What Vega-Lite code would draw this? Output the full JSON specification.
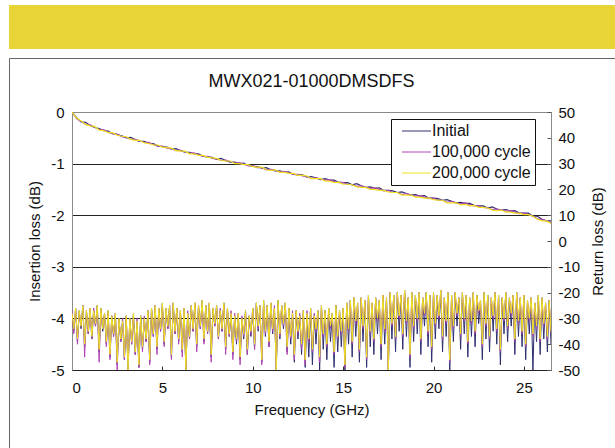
{
"$schema":"https://vega.github.io/schema/vega-lite/v6.json",
"padding":{"left":7,"top":5,"right":0,"bottom":0},
"config":{"font":"Liberation Sans","view":{"stroke":"#8a8a8a"},"axis":{"labelFont":"Liberation Sans","titleFont":"Liberation Sans","labelColor":"#111","titleColor":"#111","titleFontWeight":"normal"},"legend":{"labelFont":"Liberation Sans"}},
"spacing":-610,
"align":"none",
"resolve":{"legend":{"color":"independent"}},
"datasets":{
"il":[
{"f":0,"a":0,"b":0,"c":0},
{"f":0.25,"a":-0.11,"b":-0.13,"c":-0.12},
{"f":0.5,"a":-0.19,"b":-0.18,"c":-0.17},
{"f":0.75,"a":-0.2,"b":-0.24,"c":-0.24},
{"f":1,"a":-0.26,"b":-0.25,"c":-0.27},
{"f":1.25,"a":-0.3,"b":-0.29,"c":-0.28},
{"f":1.5,"a":-0.32,"b":-0.34,"c":-0.35},
{"f":1.75,"a":-0.36,"b":-0.34,"c":-0.36},
{"f":2,"a":-0.37,"b":-0.39,"c":-0.4},
{"f":2.25,"a":-0.42,"b":-0.42,"c":-0.4},
{"f":2.5,"a":-0.44,"b":-0.43,"c":-0.45},
{"f":2.75,"a":-0.46,"b":-0.48,"c":-0.47},
{"f":3,"a":-0.5,"b":-0.49,"c":-0.48},
{"f":3.25,"a":-0.49,"b":-0.53,"c":-0.53},
{"f":3.5,"a":-0.54,"b":-0.53,"c":-0.55},
{"f":3.75,"a":-0.57,"b":-0.56,"c":-0.55},
{"f":4,"a":-0.57,"b":-0.59,"c":-0.6},
{"f":4.25,"a":-0.61,"b":-0.59,"c":-0.61},
{"f":4.5,"a":-0.61,"b":-0.63,"c":-0.64},
{"f":4.75,"a":-0.66,"b":-0.66,"c":-0.64},
{"f":5,"a":-0.67,"b":-0.66,"c":-0.68},
{"f":5.25,"a":-0.68,"b":-0.7,"c":-0.69},
{"f":5.5,"a":-0.72,"b":-0.71,"c":-0.7},
{"f":5.75,"a":-0.71,"b":-0.75,"c":-0.75},
{"f":6,"a":-0.75,"b":-0.74,"c":-0.76},
{"f":6.25,"a":-0.78,"b":-0.77,"c":-0.76},
{"f":6.5,"a":-0.78,"b":-0.8,"c":-0.81},
{"f":6.75,"a":-0.81,"b":-0.79,"c":-0.81},
{"f":7,"a":-0.81,"b":-0.83,"c":-0.84},
{"f":7.25,"a":-0.86,"b":-0.86,"c":-0.84},
{"f":7.5,"a":-0.87,"b":-0.86,"c":-0.88},
{"f":7.75,"a":-0.88,"b":-0.9,"c":-0.89},
{"f":8,"a":-0.92,"b":-0.91,"c":-0.9},
{"f":8.25,"a":-0.9,"b":-0.94,"c":-0.94},
{"f":8.5,"a":-0.94,"b":-0.93,"c":-0.95},
{"f":8.75,"a":-0.97,"b":-0.96,"c":-0.95},
{"f":9,"a":-0.97,"b":-0.99,"c":-1},
{"f":9.25,"a":-1,"b":-0.98,"c":-1},
{"f":9.5,"a":-0.99,"b":-1.01,"c":-1.02},
{"f":9.75,"a":-1.04,"b":-1.04,"c":-1.02},
{"f":10,"a":-1.05,"b":-1.04,"c":-1.06},
{"f":10.25,"a":-1.06,"b":-1.08,"c":-1.07},
{"f":10.5,"a":-1.09,"b":-1.08,"c":-1.07},
{"f":10.75,"a":-1.08,"b":-1.12,"c":-1.12},
{"f":11,"a":-1.12,"b":-1.11,"c":-1.13},
{"f":11.25,"a":-1.14,"b":-1.13,"c":-1.12},
{"f":11.5,"a":-1.14,"b":-1.16,"c":-1.17},
{"f":11.75,"a":-1.17,"b":-1.15,"c":-1.17},
{"f":12,"a":-1.16,"b":-1.18,"c":-1.19},
{"f":12.25,"a":-1.21,"b":-1.21,"c":-1.19},
{"f":12.5,"a":-1.22,"b":-1.21,"c":-1.23},
{"f":12.75,"a":-1.22,"b":-1.24,"c":-1.23},
{"f":13,"a":-1.26,"b":-1.25,"c":-1.24},
{"f":13.25,"a":-1.25,"b":-1.29,"c":-1.29},
{"f":13.5,"a":-1.28,"b":-1.27,"c":-1.29},
{"f":13.75,"a":-1.31,"b":-1.3,"c":-1.29},
{"f":14,"a":-1.29,"b":-1.32,"c":-1.34},
{"f":14.25,"a":-1.32,"b":-1.31,"c":-1.34},
{"f":14.5,"a":-1.32,"b":-1.35,"c":-1.37},
{"f":14.75,"a":-1.36,"b":-1.37,"c":-1.36},
{"f":15,"a":-1.37,"b":-1.37,"c":-1.4},
{"f":15.25,"a":-1.37,"b":-1.4,"c":-1.4},
{"f":15.5,"a":-1.41,"b":-1.41,"c":-1.41},
{"f":15.75,"a":-1.39,"b":-1.44,"c":-1.45},
{"f":16,"a":-1.43,"b":-1.43,"c":-1.46},
{"f":16.25,"a":-1.46,"b":-1.46,"c":-1.46},
{"f":16.5,"a":-1.45,"b":-1.48,"c":-1.5},
{"f":16.75,"a":-1.48,"b":-1.47,"c":-1.5},
{"f":17,"a":-1.47,"b":-1.5,"c":-1.52},
{"f":17.25,"a":-1.52,"b":-1.53,"c":-1.52},
{"f":17.5,"a":-1.52,"b":-1.52,"c":-1.55},
{"f":17.75,"a":-1.53,"b":-1.56,"c":-1.56},
{"f":18,"a":-1.56,"b":-1.56,"c":-1.56},
{"f":18.25,"a":-1.55,"b":-1.6,"c":-1.61},
{"f":18.5,"a":-1.58,"b":-1.58,"c":-1.61},
{"f":18.75,"a":-1.61,"b":-1.61,"c":-1.61},
{"f":19,"a":-1.6,"b":-1.63,"c":-1.65},
{"f":19.25,"a":-1.63,"b":-1.62,"c":-1.65},
{"f":19.5,"a":-1.62,"b":-1.65,"c":-1.67},
{"f":19.75,"a":-1.67,"b":-1.68,"c":-1.67},
{"f":20,"a":-1.67,"b":-1.67,"c":-1.7},
{"f":20.25,"a":-1.68,"b":-1.71,"c":-1.71},
{"f":20.5,"a":-1.71,"b":-1.71,"c":-1.71},
{"f":20.75,"a":-1.7,"b":-1.75,"c":-1.76},
{"f":21,"a":-1.73,"b":-1.73,"c":-1.76},
{"f":21.25,"a":-1.76,"b":-1.76,"c":-1.76},
{"f":21.5,"a":-1.75,"b":-1.78,"c":-1.8},
{"f":21.75,"a":-1.77,"b":-1.76,"c":-1.79},
{"f":22,"a":-1.77,"b":-1.8,"c":-1.82},
{"f":22.25,"a":-1.81,"b":-1.82,"c":-1.81},
{"f":22.5,"a":-1.82,"b":-1.82,"c":-1.85},
{"f":22.75,"a":-1.82,"b":-1.85,"c":-1.85},
{"f":23,"a":-1.86,"b":-1.86,"c":-1.86},
{"f":23.25,"a":-1.84,"b":-1.89,"c":-1.9},
{"f":23.5,"a":-1.88,"b":-1.88,"c":-1.91},
{"f":23.75,"a":-1.9,"b":-1.9,"c":-1.9},
{"f":24,"a":-1.89,"b":-1.92,"c":-1.94},
{"f":24.25,"a":-1.92,"b":-1.91,"c":-1.94},
{"f":24.5,"a":-1.91,"b":-1.94,"c":-1.96},
{"f":24.75,"a":-1.96,"b":-1.97,"c":-1.96},
{"f":25,"a":-1.96,"b":-1.96,"c":-1.99},
{"f":25.25,"a":-1.96,"b":-1.99,"c":-1.99},
{"f":25.5,"a":-2.02,"b":-2.02,"c":-2.02},
{"f":25.75,"a":-2.02,"b":-2.07,"c":-2.08},
{"f":26,"a":-2.08,"b":-2.08,"c":-2.11},
{"f":26.25,"a":-2.11,"b":-2.11,"c":-2.11},
{"f":26.5,"a":-2.11,"b":-2.14,"c":-2.16}
],
"rl":[
{"f":0,"a":-28,"b":-27,"c":-28},
{"f":0.1,"a":-35,"b":-36,"c":-34},
{"f":0.2,"a":-26,"b":-26,"c":-26},
{"f":0.3,"a":-39,"b":-40,"c":-38},
{"f":0.4,"a":-27,"b":-28,"c":-27},
{"f":0.5,"a":-34,"b":-33,"c":-33},
{"f":0.6,"a":-25,"b":-25,"c":-25},
{"f":0.7,"a":-41,"b":-45,"c":-40},
{"f":0.8,"a":-27,"b":-27,"c":-27},
{"f":0.9,"a":-36,"b":-36,"c":-35},
{"f":1,"a":-26,"b":-26,"c":-26},
{"f":1.1,"a":-38,"b":-38,"c":-37},
{"f":1.2,"a":-27,"b":-26,"c":-27},
{"f":1.3,"a":-33,"b":-33,"c":-32},
{"f":1.4,"a":-25,"b":-25,"c":-25},
{"f":1.5,"a":-43,"b":-47,"c":-42},
{"f":1.6,"a":-26,"b":-27,"c":-26},
{"f":1.7,"a":-35,"b":-34,"c":-34},
{"f":1.8,"a":-28,"b":-28,"c":-28},
{"f":1.9,"a":-40,"b":-41,"c":-39},
{"f":2,"a":-27,"b":-28,"c":-27},
{"f":2.1,"a":-45,"b":-46,"c":-44},
{"f":2.2,"a":-29,"b":-29,"c":-29},
{"f":2.3,"a":-37,"b":-37,"c":-36},
{"f":2.4,"a":-28,"b":-28,"c":-28},
{"f":2.5,"a":-48,"b":-50,"c":-47},
{"f":2.6,"a":-30,"b":-30,"c":-30},
{"f":2.7,"a":-39,"b":-39,"c":-38},
{"f":2.8,"a":-31,"b":-30,"c":-31},
{"f":2.9,"a":-46,"b":-46,"c":-45},
{"f":3,"a":-29,"b":-29,"c":-29},
{"f":3.1,"a":-50,"b":-50,"c":-50},
{"f":3.2,"a":-30,"b":-30,"c":-30},
{"f":3.3,"a":-40,"b":-40,"c":-39},
{"f":3.4,"a":-28,"b":-29,"c":-28},
{"f":3.5,"a":-44,"b":-44,"c":-43},
{"f":3.6,"a":-31,"b":-30,"c":-31},
{"f":3.7,"a":-49,"b":-49,"c":-48},
{"f":3.8,"a":-29,"b":-29,"c":-29},
{"f":3.9,"a":-42,"b":-43,"c":-41},
{"f":4,"a":-30,"b":-29,"c":-30},
{"f":4.1,"a":-39,"b":-39,"c":-38},
{"f":4.2,"a":-27,"b":-27,"c":-27},
{"f":4.3,"a":-47,"b":-48,"c":-46},
{"f":4.4,"a":-26,"b":-26,"c":-26},
{"f":4.5,"a":-37,"b":-37,"c":-36},
{"f":4.6,"a":-25,"b":-25,"c":-25},
{"f":4.7,"a":-42,"b":-44,"c":-41},
{"f":4.8,"a":-26,"b":-26,"c":-26},
{"f":4.9,"a":-35,"b":-35,"c":-34},
{"f":5,"a":-24,"b":-25,"c":-24},
{"f":5.1,"a":-40,"b":-41,"c":-39},
{"f":5.2,"a":-26,"b":-26,"c":-26},
{"f":5.3,"a":-34,"b":-34,"c":-33},
{"f":5.4,"a":-25,"b":-25,"c":-25},
{"f":5.5,"a":-45,"b":-46,"c":-44},
{"f":5.6,"a":-24,"b":-24,"c":-24},
{"f":5.7,"a":-36,"b":-36,"c":-35},
{"f":5.8,"a":-26,"b":-26,"c":-26},
{"f":5.9,"a":-39,"b":-40,"c":-38},
{"f":6,"a":-27,"b":-27,"c":-27},
{"f":6.1,"a":-43,"b":-45,"c":-42},
{"f":6.2,"a":-26,"b":-26,"c":-26},
{"f":6.3,"a":-50,"b":-50,"c":-50},
{"f":6.4,"a":-28,"b":-27,"c":-28},
{"f":6.5,"a":-38,"b":-38,"c":-37},
{"f":6.6,"a":-25,"b":-25,"c":-25},
{"f":6.7,"a":-35,"b":-35,"c":-34},
{"f":6.8,"a":-24,"b":-24,"c":-24},
{"f":6.9,"a":-41,"b":-43,"c":-40},
{"f":7,"a":-25,"b":-25,"c":-25},
{"f":7.1,"a":-34,"b":-34,"c":-33},
{"f":7.2,"a":-23,"b":-24,"c":-23},
{"f":7.3,"a":-39,"b":-40,"c":-38},
{"f":7.4,"a":-25,"b":-25,"c":-25},
{"f":7.5,"a":-36,"b":-36,"c":-35},
{"f":7.6,"a":-24,"b":-24,"c":-24},
{"f":7.7,"a":-45,"b":-47,"c":-44},
{"f":7.8,"a":-26,"b":-26,"c":-26},
{"f":7.9,"a":-33,"b":-33,"c":-32},
{"f":8,"a":-25,"b":-25,"c":-25},
{"f":8.1,"a":-38,"b":-38,"c":-37},
{"f":8.2,"a":-27,"b":-26,"c":-27},
{"f":8.3,"a":-35,"b":-35,"c":-34},
{"f":8.4,"a":-24,"b":-24,"c":-24},
{"f":8.5,"a":-42,"b":-44,"c":-41},
{"f":8.6,"a":-26,"b":-26,"c":-26},
{"f":8.7,"a":-37,"b":-37,"c":-36},
{"f":8.8,"a":-28,"b":-27,"c":-28},
{"f":8.9,"a":-44,"b":-46,"c":-43},
{"f":9,"a":-29,"b":-28,"c":-29},
{"f":9.1,"a":-40,"b":-39,"c":-38},
{"f":9.2,"a":-28,"b":-28,"c":-28},
{"f":9.3,"a":-46,"b":-48,"c":-45},
{"f":9.4,"a":-30,"b":-29,"c":-30},
{"f":9.5,"a":-38,"b":-37,"c":-36},
{"f":9.6,"a":-27,"b":-27,"c":-27},
{"f":9.7,"a":-44,"b":-44,"c":-42},
{"f":9.8,"a":-29,"b":-29,"c":-29},
{"f":9.9,"a":-37,"b":-36,"c":-35},
{"f":10,"a":-26,"b":-26,"c":-26},
{"f":10.1,"a":-42,"b":-42,"c":-40},
{"f":10.2,"a":-24,"b":-24,"c":-24},
{"f":10.3,"a":-35,"b":-34,"c":-33},
{"f":10.4,"a":-25,"b":-25,"c":-25},
{"f":10.5,"a":-47,"b":-48,"c":-46},
{"f":10.6,"a":-23,"b":-24,"c":-23},
{"f":10.7,"a":-37,"b":-36,"c":-35},
{"f":10.8,"a":-25,"b":-25,"c":-25},
{"f":10.9,"a":-41,"b":-41,"c":-39},
{"f":11,"a":-24,"b":-24,"c":-24},
{"f":11.1,"a":-36,"b":-35,"c":-34},
{"f":11.2,"a":-26,"b":-25,"c":-26},
{"f":11.3,"a":-50,"b":-50,"c":-50},
{"f":11.4,"a":-23,"b":-24,"c":-23},
{"f":11.5,"a":-38,"b":-37,"c":-36},
{"f":11.6,"a":-25,"b":-25,"c":-25},
{"f":11.7,"a":-34,"b":-33,"c":-32},
{"f":11.8,"a":-24,"b":-24,"c":-24},
{"f":11.9,"a":-43,"b":-44,"c":-41},
{"f":12,"a":-26,"b":-26,"c":-26},
{"f":12.1,"a":-40,"b":-38,"c":-37},
{"f":12.2,"a":-28,"b":-27,"c":-28},
{"f":12.3,"a":-47,"b":-46,"c":-44},
{"f":12.4,"a":-27,"b":-27,"c":-27},
{"f":12.5,"a":-38,"b":-36,"c":-35},
{"f":12.6,"a":-29,"b":-28,"c":-29},
{"f":12.7,"a":-44,"b":-42,"c":-40},
{"f":12.8,"a":-27,"b":-27,"c":-27},
{"f":12.9,"a":-49,"b":-48,"c":-46},
{"f":13,"a":-28,"b":-27,"c":-28},
{"f":13.1,"a":-45,"b":-39,"c":-38},
{"f":13.2,"a":-26,"b":-26,"c":-26},
{"f":13.3,"a":-48,"b":-43,"c":-42},
{"f":13.4,"a":-29,"b":-28,"c":-29},
{"f":13.5,"a":-40,"b":-35,"c":-34},
{"f":13.6,"a":-27,"b":-27,"c":-27},
{"f":13.7,"a":-50,"b":-47,"c":-45},
{"f":13.8,"a":-25,"b":-25,"c":-25},
{"f":13.9,"a":-42,"b":-37,"c":-36},
{"f":14,"a":-27,"b":-27,"c":-27},
{"f":14.1,"a":-46,"b":-41,"c":-40},
{"f":14.2,"a":-26,"b":-26,"c":-26},
{"f":14.3,"a":-39,"b":-34,"c":-33},
{"f":14.4,"a":-28,"b":-28,"c":-28},
{"f":14.5,"a":-49,"b":-44,"c":-43},
{"f":14.6,"a":-25,"b":-25,"c":-25},
{"f":14.7,"a":-43,"b":-38,"c":-37},
{"f":14.8,"a":-27,"b":-27,"c":-27},
{"f":14.9,"a":-41,"b":-36,"c":-35},
{"f":15,"a":-26,"b":-26,"c":-26},
{"f":15.1,"a":-50,"b":-49,"c":-48},
{"f":15.2,"a":-24,"b":-24,"c":-24},
{"f":15.3,"a":-40,"b":-35,"c":-34},
{"f":15.4,"a":-23,"b":-23,"c":-23},
{"f":15.5,"a":-45,"b":-40,"c":-39},
{"f":15.6,"a":-22,"b":-22,"c":-22},
{"f":15.7,"a":-37,"b":-32,"c":-31},
{"f":15.8,"a":-24,"b":-24,"c":-24},
{"f":15.9,"a":-47,"b":-43,"c":-42},
{"f":16,"a":-22,"b":-22,"c":-22},
{"f":16.1,"a":-39,"b":-34,"c":-33},
{"f":16.2,"a":-23,"b":-23,"c":-23},
{"f":16.3,"a":-49,"b":-46,"c":-45},
{"f":16.4,"a":-21,"b":-21,"c":-21},
{"f":16.5,"a":-41,"b":-36,"c":-35},
{"f":16.6,"a":-24,"b":-24,"c":-24},
{"f":16.7,"a":-44,"b":-39,"c":-38},
{"f":16.8,"a":-22,"b":-22,"c":-22},
{"f":16.9,"a":-36,"b":-31,"c":-30},
{"f":17,"a":-23,"b":-23,"c":-23},
{"f":17.1,"a":-46,"b":-41,"c":-40},
{"f":17.2,"a":-21,"b":-21,"c":-21},
{"f":17.3,"a":-40,"b":-35,"c":-34},
{"f":17.4,"a":-22,"b":-22,"c":-22},
{"f":17.5,"a":-50,"b":-50,"c":-50},
{"f":17.6,"a":-20,"b":-20,"c":-20},
{"f":17.7,"a":-38,"b":-33,"c":-32},
{"f":17.8,"a":-21,"b":-21,"c":-21},
{"f":17.9,"a":-43,"b":-38,"c":-37},
{"f":18,"a":-20,"b":-20,"c":-20},
{"f":18.1,"a":-35,"b":-30,"c":-29},
{"f":18.2,"a":-21,"b":-21,"c":-21},
{"f":18.3,"a":-42,"b":-37,"c":-36},
{"f":18.4,"a":-19,"b":-19,"c":-19},
{"f":18.5,"a":-37,"b":-32,"c":-31},
{"f":18.6,"a":-22,"b":-22,"c":-22},
{"f":18.7,"a":-49,"b":-45,"c":-44},
{"f":18.8,"a":-20,"b":-20,"c":-20},
{"f":18.9,"a":-39,"b":-34,"c":-33},
{"f":19,"a":-21,"b":-21,"c":-21},
{"f":19.1,"a":-36,"b":-31,"c":-30},
{"f":19.2,"a":-20,"b":-20,"c":-20},
{"f":19.3,"a":-44,"b":-39,"c":-38},
{"f":19.4,"a":-22,"b":-22,"c":-22},
{"f":19.5,"a":-33,"b":-29,"c":-28},
{"f":19.6,"a":-20,"b":-20,"c":-20},
{"f":19.7,"a":-41,"b":-36,"c":-35},
{"f":19.8,"a":-21,"b":-21,"c":-21},
{"f":19.9,"a":-47,"b":-42,"c":-41},
{"f":20,"a":-20,"b":-20,"c":-20},
{"f":20.1,"a":-38,"b":-33,"c":-32},
{"f":20.2,"a":-21,"b":-21,"c":-21},
{"f":20.3,"a":-34,"b":-30,"c":-29},
{"f":20.4,"a":-19,"b":-19,"c":-19},
{"f":20.5,"a":-43,"b":-38,"c":-37},
{"f":20.6,"a":-22,"b":-22,"c":-22},
{"f":20.7,"a":-37,"b":-32,"c":-31},
{"f":20.8,"a":-20,"b":-20,"c":-20},
{"f":20.9,"a":-50,"b":-47,"c":-46},
{"f":21,"a":-21,"b":-21,"c":-21},
{"f":21.1,"a":-39,"b":-34,"c":-33},
{"f":21.2,"a":-20,"b":-20,"c":-20},
{"f":21.3,"a":-33,"b":-29,"c":-28},
{"f":21.4,"a":-22,"b":-22,"c":-22},
{"f":21.5,"a":-42,"b":-37,"c":-36},
{"f":21.6,"a":-20,"b":-20,"c":-20},
{"f":21.7,"a":-36,"b":-31,"c":-30},
{"f":21.8,"a":-21,"b":-21,"c":-21},
{"f":21.9,"a":-45,"b":-40,"c":-39},
{"f":22,"a":-22,"b":-22,"c":-22},
{"f":22.1,"a":-37,"b":-32,"c":-31},
{"f":22.2,"a":-20,"b":-20,"c":-20},
{"f":22.3,"a":-41,"b":-36,"c":-35},
{"f":22.4,"a":-21,"b":-21,"c":-21},
{"f":22.5,"a":-32,"b":-28,"c":-27},
{"f":22.6,"a":-23,"b":-23,"c":-23},
{"f":22.7,"a":-46,"b":-41,"c":-40},
{"f":22.8,"a":-20,"b":-20,"c":-20},
{"f":22.9,"a":-38,"b":-33,"c":-32},
{"f":23,"a":-21,"b":-21,"c":-21},
{"f":23.1,"a":-43,"b":-38,"c":-37},
{"f":23.2,"a":-22,"b":-22,"c":-22},
{"f":23.3,"a":-35,"b":-30,"c":-29},
{"f":23.4,"a":-20,"b":-20,"c":-20},
{"f":23.5,"a":-40,"b":-35,"c":-34},
{"f":23.6,"a":-21,"b":-21,"c":-21},
{"f":23.7,"a":-48,"b":-43,"c":-42},
{"f":23.8,"a":-22,"b":-22,"c":-22},
{"f":23.9,"a":-36,"b":-31,"c":-30},
{"f":24,"a":-20,"b":-20,"c":-20},
{"f":24.1,"a":-39,"b":-34,"c":-33},
{"f":24.2,"a":-22,"b":-22,"c":-22},
{"f":24.3,"a":-33,"b":-29,"c":-28},
{"f":24.4,"a":-21,"b":-21,"c":-21},
{"f":24.5,"a":-44,"b":-39,"c":-38},
{"f":24.6,"a":-20,"b":-20,"c":-20},
{"f":24.7,"a":-37,"b":-32,"c":-31},
{"f":24.8,"a":-22,"b":-22,"c":-22},
{"f":24.9,"a":-41,"b":-36,"c":-35},
{"f":25,"a":-21,"b":-21,"c":-21},
{"f":25.1,"a":-46,"b":-41,"c":-40},
{"f":25.2,"a":-23,"b":-23,"c":-23},
{"f":25.3,"a":-36,"b":-31,"c":-30},
{"f":25.4,"a":-22,"b":-22,"c":-22},
{"f":25.5,"a":-50,"b":-37,"c":-36},
{"f":25.6,"a":-24,"b":-24,"c":-24},
{"f":25.7,"a":-39,"b":-34,"c":-33},
{"f":25.8,"a":-21,"b":-21,"c":-21},
{"f":25.9,"a":-44,"b":-39,"c":-38},
{"f":26,"a":-22,"b":-22,"c":-22},
{"f":26.1,"a":-38,"b":-33,"c":-32},
{"f":26.2,"a":-24,"b":-24,"c":-24},
{"f":26.3,"a":-43,"b":-38,"c":-37},
{"f":26.4,"a":-23,"b":-23,"c":-23},
{"f":26.5,"a":-40,"b":-36,"c":-35}
]
},
"hconcat":[
{"spacing":8,
"vconcat":[
{"width":608,"height":44,"data":{"values":[]},"mark":"rule","encoding":{},"view":{"fill":"#e8d436","stroke":null}},
{"width":607,"height":390,"data":{"values":[]},"mark":"rule","encoding":{},"view":{"fill":null,"stroke":"#666666"}}
]},
{"spacing":66,"resolve":{"legend":{"color":"independent"}},
"vconcat":[
{"width":479,"height":1,"data":{"values":[]},"mark":"rule","encoding":{},"view":{"fill":null,"stroke":null}},
{"width":479,"height":258,
"title":{"text":"MWX021-01000DMSDFS","fontSize":18,"fontWeight":"normal","font":"Liberation Sans","color":"#111","anchor":"middle","baseline":"alphabetic","offset":0},
"layer":[
{"data":{"name":"il"},"transform":[{"fold":["a","b","c"],"as":["k","v"]}],
"mark":{"type":"line","strokeWidth":1.2,"clip":true},
"encoding":{
"x":{"field":"f","type":"quantitative","scale":{"domain":[0,26.5],"nice":false,"zero":false},
"axis":{"values":[0,5,10,15,20,25],"grid":false,"tickSize":-4,"tickColor":"#333","domainColor":"#222","labelFontSize":15,"labelPadding":14,"title":"Frequency (GHz)","titleFontSize":15,"titlePadding":7}},
"y":{"field":"v","type":"quantitative","scale":{"domain":[-5,0],"nice":false},
"axis":{"orient":"left","values":[-5,-4,-3,-2,-1,0],"grid":true,"gridColor":{"condition":{"test":"datum.value==0","value":"#8a8a8a"},"value":"#222"},"gridOpacity":1,"ticks":false,"domainColor":"#8a8a8a","labelFontSize":15,"labelPadding":8,"labelExpr":"'' + datum.value","title":["","Insertion loss (dB)"],"titleFontSize":15,"titlePadding":8,"titleLineHeight":20}},
"color":{"field":"k","type":"nominal","scale":{"domain":["a","b","c"],"range":["#2e2e70","#b044b4","#eee41e"]},
"legend":{"orient":"none","legendX":319,"legendY":7,"title":null,"strokeColor":"#111","fillColor":"white","padding":4,"symbolType":"M-0.2,0H5.6","symbolSize":100,"symbolStrokeWidth":1,"labelOffset":21,"labelFontSize":16,"labelColor":"#111","rowPadding":5,"labelExpr":"datum.label == 'a' ? 'Initial' : datum.label == 'b' ? '100,000 cycle' : '200,000 cycle'"}}
}},
{"data":{"name":"rl"},"transform":[{"fold":["a","b","c"],"as":["k","v"]}],
"mark":{"type":"line","strokeWidth":1,"clip":true},
"encoding":{
"x":{"field":"f","type":"quantitative"},
"y":{"field":"v","type":"quantitative","scale":{"domain":[-50,50],"nice":false},
"axis":{"orient":"right","values":[-50,-40,-30,-20,-10,0,10,20,30,40,50],"grid":false,"tickSize":-4,"tickColor":"#555","domainColor":"#8a8a8a","labelFontSize":15,"labelPadding":11,"labelExpr":"'' + datum.value","title":"Return loss (dB)","titleFontSize":15,"titlePadding":11,"titleAngle":270,"titleBaseline":"top"}},
"color":{"field":"k","type":"nominal"}
}}
],
"resolve":{"scale":{"y":"independent"}}
}
]}
]
}
